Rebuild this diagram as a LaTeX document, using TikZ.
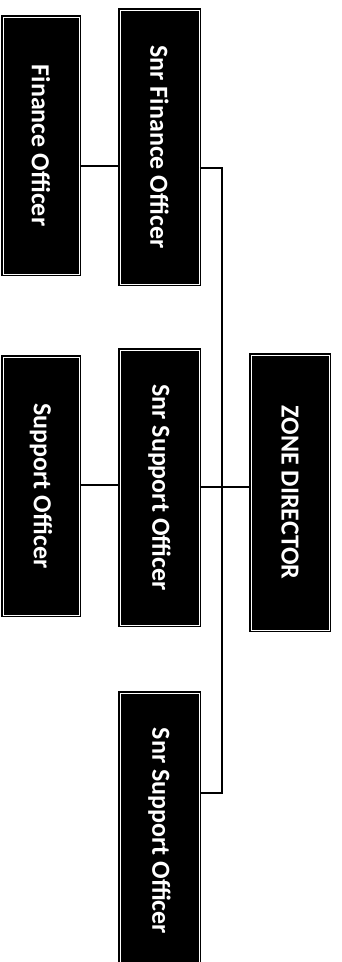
\documentclass[tikz,border=0pt]{standalone}
\usepackage{fontspec}
\setmainfont{Carlito}
\begin{document}
\begin{tikzpicture}[x=1pt,y=-1pt,
  post/.style={rectangle, fill=black, draw=black, line width=1.8pt,
    double=white, double distance=1pt,
    text=white, rotate=-90, inner sep=0pt,
    font=\bfseries\fontsize{26}{28}\selectfont},
  link/.style={draw=black, line width=1.6pt}]
\useasboundingbox (0,0) rectangle (341,962);
\begin{scope}
\clip (0,0) rectangle (341,962);
% rotated boxes: minimum width runs down the page
\node[post, minimum width=257pt, minimum height=76pt] (fo)   at (41,145.5)   {Finance Officer};
\node[post, minimum width=274pt, minimum height=79pt] (sfo)  at (159.5,147)  {Snr Finance Officer};
\node[post, minimum width=258pt, minimum height=76pt] (so)   at (41,486)     {Support Officer};
\node[post, minimum width=275pt, minimum height=79pt] (sso)  at (159.5,487.5){Snr Support Officer};
\node[post, minimum width=275pt, minimum height=78pt] (zd)   at (290,492.5)  {ZONE DIRECTOR};
\node[post, minimum width=276pt, minimum height=79pt] (sso2) at (159.5,831)  {Snr Support Officer};
% trunk of the chart
\coordinate (ttop) at (222,168);
\coordinate (tbot) at (222,793);
\coordinate (tmid) at (222,487);
\draw[link] (sfo.north |- ttop) -- (ttop) -- (tbot) -- (sso2.north |- tbot);
\draw[link] (sso.north |- tmid) -- (zd.south |- tmid);
\draw[link] (fo.north |- 0,166) -- (sfo.south |- 0,166);
\draw[link] (so.north |- 0,485) -- (sso.south |- 0,485);
\end{scope}
\end{tikzpicture}
\end{document}
